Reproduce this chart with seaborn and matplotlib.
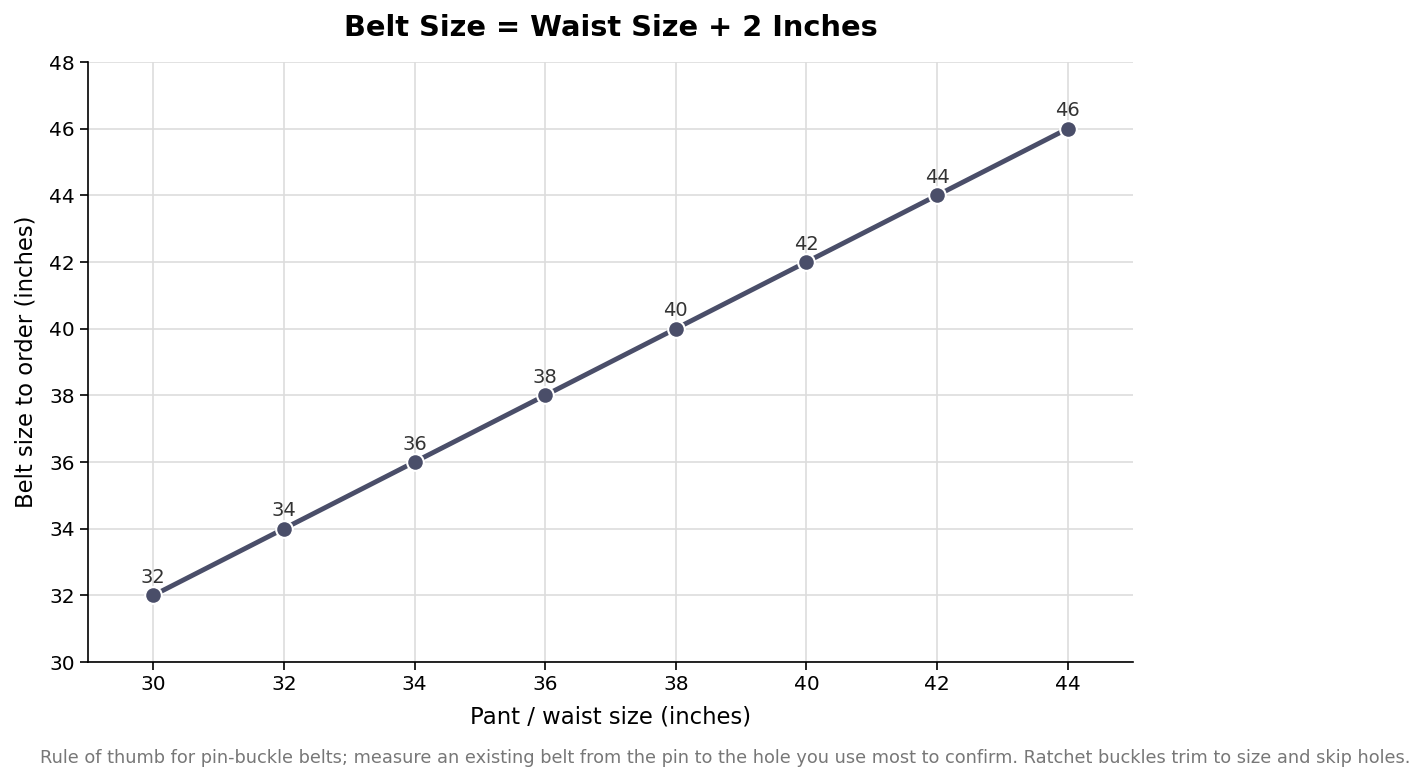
import matplotlib
matplotlib.use("Agg")
import matplotlib.pyplot as plt
import seaborn as sns

waist = [30, 32, 34, 36, 38, 40, 42, 44]
belt = [32, 34, 36, 38, 40, 42, 44, 46]

sns.set_style("white")
plt.rcParams['font.family'] = ['DejaVu Sans']
plt.rcParams['font.sans-serif'] = ['DejaVu Sans']
plt.rcParams['text.color'] = 'black'
plt.rcParams['axes.labelcolor'] = 'black'
plt.rcParams['xtick.color'] = 'black'
plt.rcParams['ytick.color'] = 'black'

fig = plt.figure(figsize=(14.25, 7.83), dpi=100)
ax = fig.add_axes([88 / 1425, 1 - 662 / 783, (1133 - 88) / 1425, (662 - 62) / 783])

sns.lineplot(x=waist, y=belt, ax=ax, color="#4a4e69", linewidth=3.5,
             marker="o", markersize=12, markeredgecolor="white", markeredgewidth=1.5)

for xv, yv in zip(waist, belt):
    ax.annotate(str(yv), (xv, yv), xytext=(0, 6), textcoords="offset points",
                ha="center", va="bottom", fontsize=14, color="#333333")

ax.set_xlim(29, 45)
ax.set_ylim(30, 48)
ax.set_xticks(range(30, 45, 2))
ax.set_yticks(range(30, 49, 2))
ax.tick_params(axis="both", labelsize=14.5, length=6, width=1.2, color="black",
               labelcolor="black", left=True, bottom=True)
ax.grid(True, color="#dddddd", linewidth=1.2)
ax.set_axisbelow(True)
sns.despine(ax=ax)
for s in ["left", "bottom"]:
    ax.spines[s].set_color("black")
    ax.spines[s].set_linewidth(1.2)

ax.set_xlabel("Pant / waist size (inches)", fontsize=16.4, labelpad=8, color="black")
ax.set_ylabel("Belt size to order (inches)", fontsize=16.4, labelpad=8, color="black")
ax.set_title("Belt Size = Waist Size + 2 Inches", fontsize=20.8, fontweight="bold",
             pad=19, color="black")

fig.text(40 / 1425, 1 - 758 / 783,
         "Rule of thumb for pin-buckle belts; measure an existing belt from the pin to the hole you use most to confirm. Ratchet buckles trim to size and skip holes.",
         fontsize=12.8, color="#777777", ha="left", va="center")

fig.savefig("out.png", dpi=100)
